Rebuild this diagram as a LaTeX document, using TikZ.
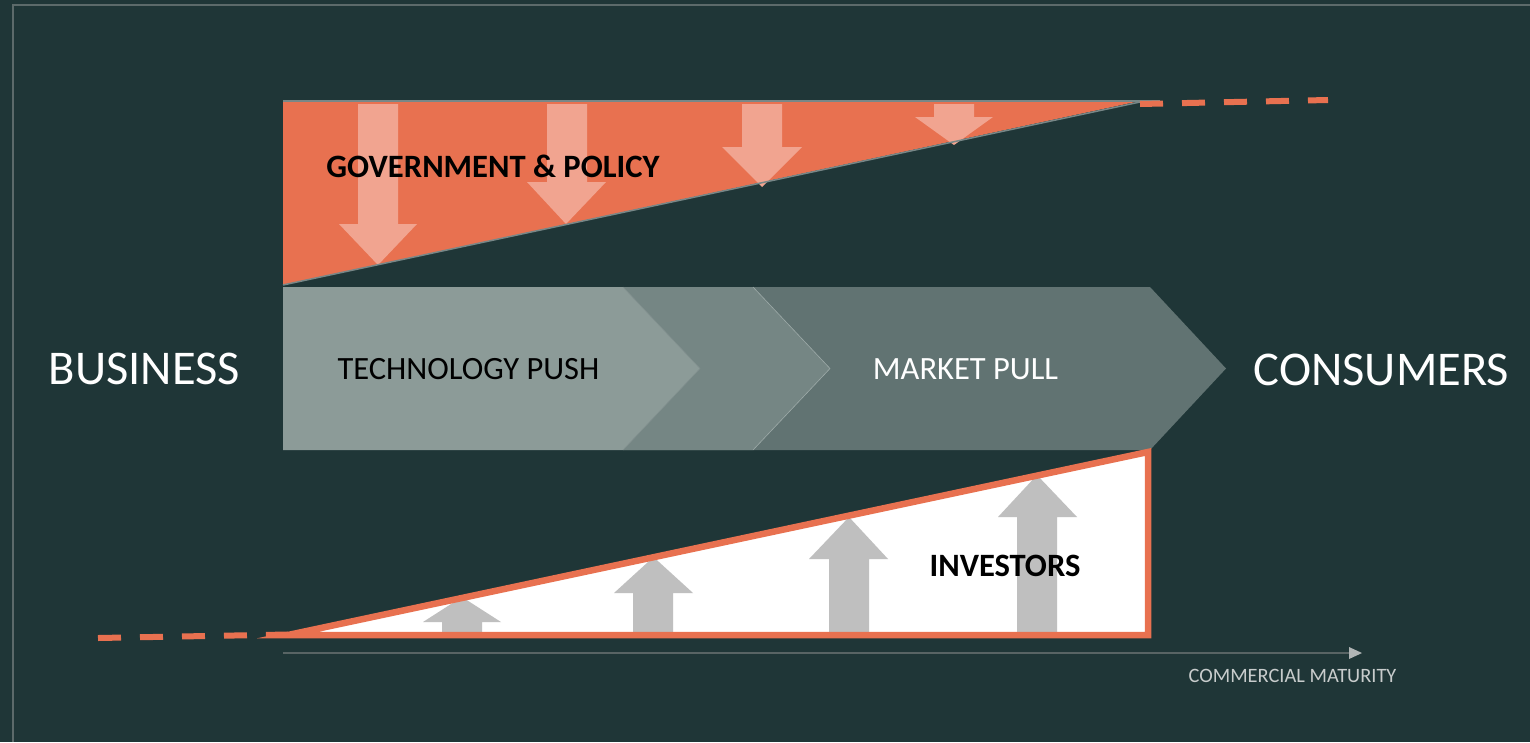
\documentclass[tikz,border=0pt]{standalone}
\usepackage{fontspec}
\setmainfont{Carlito}
\definecolor{bgc}{RGB}{31,54,55}
\definecolor{framec}{RGB}{92,106,106}
\definecolor{orangec}{RGB}{232,113,80}
\definecolor{lightor}{RGB}{241,164,144}
\definecolor{edgec}{RGB}{120,135,135}
\definecolor{chevA}{RGB}{140,155,152}
\definecolor{chevB}{RGB}{117,134,132}
\definecolor{chevC}{RGB}{97,115,114}
\definecolor{grayarr}{RGB}{191,191,191}
\definecolor{axisc}{RGB}{88,100,100}
\definecolor{axishead}{RGB}{176,181,181}
\definecolor{labelc}{RGB}{200,204,204}
\tikzset{
  bigwhite/.style={text=white,inner sep=0pt,anchor=base,font=\fontsize{48.5}{58}\selectfont},
  chevtext/.style={inner sep=0pt,anchor=base,font=\fontsize{32.5}{39}\selectfont},
  boldtext/.style={inner sep=0pt,anchor=base,text=black,font=\bfseries\fontsize{32.6}{39}\selectfont},
  downarr/.style={fill=lightor,draw=none},
  uparr/.style={fill=grayarr,draw=none},
  orangedash/.style={draw=orangec,line width=6pt,dash pattern=on 23pt off 19pt},
}
\begin{document}
\begin{tikzpicture}[x=1pt,y=-1pt]
\useasboundingbox (0,0) rectangle (1530,742);
\fill[bgc] (0,0) rectangle (1530,742);
% frame
\draw[framec,line width=1.5pt] (13,742) -- (13,5) -- (1530,5);

% ---------- top triangle (government & policy)
\fill[orangec] (283,101) -- (1140,101) -- (283,285) -- cycle;
% down arrows
\fill[downarr] (358,104) -- (398,104) -- (398,224) -- (417,224) -- (378,265) -- (339,224) -- (358,224) -- cycle;
\fill[downarr] (547,104) -- (587,104) -- (587,182) -- (606,182) -- (566,224) -- (527,182) -- (547,182) -- cycle;
\fill[downarr] (742,104) -- (782,104) -- (782,147) -- (802,147) -- (762,187) -- (722,147) -- (742,147) -- cycle;
\fill[downarr] (934,104) -- (974,104) -- (974,117) -- (993,117) -- (954,145) -- (915,117) -- (934,117) -- cycle;
\draw[edgec,line width=1.5pt] (283,285) -- (1140,102);
\draw[edgec,line width=1.2pt] (283,101) -- (1160,101);
\coordinate (dashA) at (1140,104);
\coordinate (dashB) at (1328,100);
\draw[orangedash] (dashA) -- (dashB);
\node[boldtext] (gov) at (493,177.3) {GOVERNMENT \& POLICY};

% ---------- chevrons
\fill[chevC] (623,287) -- (1150,287) -- (1226,368.5) -- (1150,450) -- (623,450) -- cycle;
\fill[chevB] (623,287) -- (753,287) -- (830,368.5) -- (753,450) -- (623,450) -- cycle;
\draw[chevA!85!white,line width=0.6pt] (753,287) -- (830,368.5) -- (753,450);
\fill[chevA] (283,287) -- (623,287) -- (700,368.5) -- (623,450) -- (283,450) -- cycle;
\draw[chevC!80!white,line width=0.6pt] (623,287) -- (700,368.5) -- (623,450);
\node[chevtext,text=black] (tech) at (468.5,379.3) {TECHNOLOGY PUSH};
\node[chevtext,text=white] (market) at (965.5,379.3) {MARKET PULL};

\node[bigwhite] (business) at (144.5,384.3) {BUSINESS};
\node[bigwhite] (consumers) at (1381.5,385) {CONSUMERS};

% ---------- bottom triangle (investors)
\fill[white] (288,635) -- (1148,635) -- (1148,452) -- cycle;
\fill[uparr] (442,633) -- (482,633) -- (482,622) -- (501,622) -- (462,597) -- (423,622) -- (442,622) -- cycle;
\fill[uparr] (633,633) -- (673,633) -- (673,593) -- (693,593) -- (653.5,557) -- (614,593) -- (633,593) -- cycle;
\fill[uparr] (829,633) -- (869,633) -- (869,559) -- (888,559) -- (849,517) -- (809,559) -- (829,559) -- cycle;
\fill[uparr] (1017,633) -- (1057,633) -- (1057,517) -- (1077,517) -- (1037,475) -- (998,517) -- (1017,517) -- cycle;
\draw[orangec,line width=6.5pt,line join=miter] (288,635) -- (1148,635) -- (1148,452) -- cycle;
\coordinate (dashC) at (98,638);
\coordinate (dashD) at (288,634.5);
\draw[orangedash] (dashC) -- (dashD);
\node[boldtext] (inv) at (1005,576.7) {INVESTORS};

% ---------- axis
\coordinate (ax0) at (283,653);
\coordinate (ax1) at (1349,653);
\coordinate (axtip) at (1362,653);
\draw[axisc,line width=1.6pt] (ax0) -- (ax1);
\fill[axishead] (1349,647) -- (axtip) -- (1349,659) -- cycle;
\node[inner sep=0pt,anchor=base,text=labelc,font=\fontsize{20.4}{24}\selectfont] (cm) at (1292.5,682.3) {COMMERCIAL MATURITY};
\end{tikzpicture}
\end{document}
